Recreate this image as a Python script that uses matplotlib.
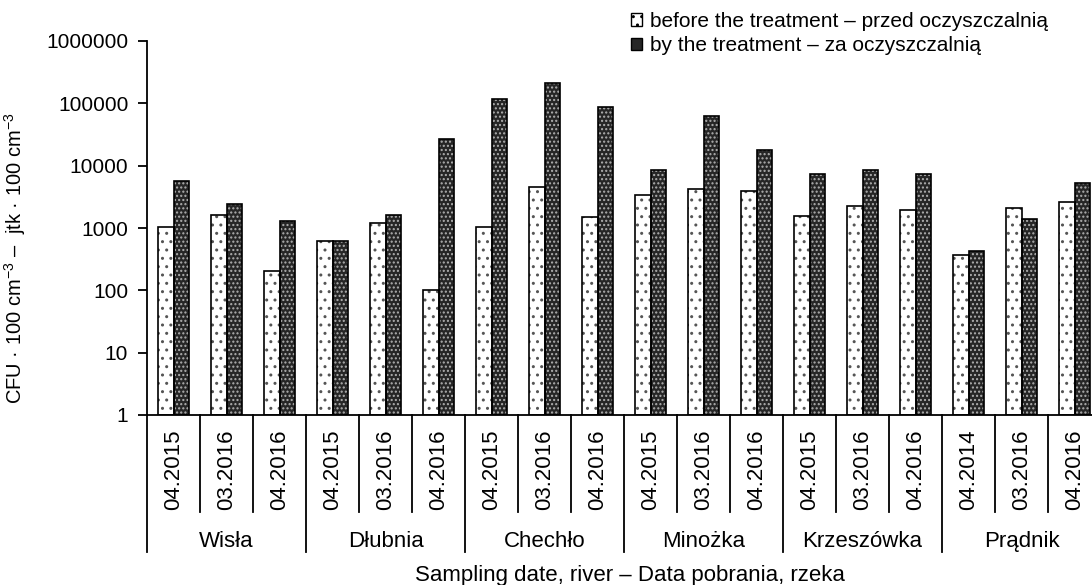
import numpy as np
import matplotlib
matplotlib.use("Agg")
import matplotlib.pyplot as plt
from matplotlib.patches import Patch
from matplotlib.ticker import FixedLocator, FixedFormatter

plt.rcParams['font.family'] = ['Liberation Sans', 'DejaVu Sans']
plt.rcParams['mathtext.fontset'] = 'custom'
plt.rcParams['mathtext.rm'] = 'Liberation Sans'
plt.rcParams['mathtext.it'] = 'Liberation Sans:italic'
plt.rcParams['hatch.linewidth'] = 1.0

# --- data ---
rivers = ['Wisła', 'Dłubnia', 'Chechło', 'Minożka', 'Krzeszówka', 'Prądnik']
dates = ['04.2015', '03.2016', '04.2016',
         '04.2015', '03.2016', '04.2016',
         '04.2015', '03.2016', '04.2016',
         '04.2015', '03.2016', '04.2016',
         '04.2015', '03.2016', '04.2016',
         '04.2014', '03.2016', '04.2016']
before = [1050, 1620, 204, 620, 1200, 100, 1050, 4500, 1520,
          3400, 4200, 3960, 1580, 2250, 1970, 373, 2090, 2600]
after = [5600, 2450, 1310, 610, 1600, 27000, 116000, 214000, 88000,
         8400, 63000, 18000, 7400, 8400, 7300, 433, 1390, 5200]
yticks = [1, 10, 100, 1000, 10000, 100000, 1000000]

W, H = 1092, 585
fig = plt.figure(figsize=(W / 100, H / 100), dpi=100)
# axes runs a little past the right edge of the figure
ax = fig.add_axes([147 / W, (H - 415) / H, 954 / W, 374 / H])

x = np.arange(len(dates))
bw = 0.29

def hatched_bars(xpos, vals, face, hatch, hcol):
    # hatch layer (hatch colour comes from the edge colour) + black outline
    ax.bar(xpos, vals, bw, bottom=1, facecolor=face, edgecolor=hcol,
           hatch=hatch, linewidth=0, zorder=2)
    ax.bar(xpos, vals, bw, bottom=1, facecolor='none', edgecolor='black',
           linewidth=1.2, zorder=3)

hatched_bars(x - bw / 2, np.array(before) - 1, 'white', '..', '#555555')
hatched_bars(x + bw / 2, np.array(after) - 1, '#262626', '....', '#b0b0b0')

ax.set_yscale('log')
ax.set_ylim(1, 1e6)
ax.set_xlim(-0.5, len(dates) - 0.5)
ax.yaxis.set_major_locator(FixedLocator(yticks))
ax.yaxis.set_major_formatter(FixedFormatter([str(v) for v in yticks]))
ax.yaxis.set_minor_locator(FixedLocator([]))
ax.tick_params(axis='y', direction='out', length=6.5, width=1.3,
               labelsize=15, pad=7)
ax.set_xticks([])
for s in ['top', 'right']:
    ax.spines[s].set_visible(False)
ax.spines['left'].set_linewidth(1.3)
ax.spines['bottom'].set_linewidth(1.3)

# multi-level category axis
trans = ax.get_xaxis_transform()
date_bot = -0.259
river_bot = -0.366
for i, d in enumerate(dates):
    ax.text(i, -0.147, d, transform=trans, rotation=90, ha='center',
            va='center', fontsize=16)
for i in range(len(dates) + 1):
    bottom = river_bot if i % 3 == 0 else date_bot
    ax.plot([i - 0.5, i - 0.5], [0, bottom], transform=trans, color='black',
            lw=1.3, clip_on=False)
for j, r in enumerate(rivers):
    ax.text(3 * j + 1, -0.352, r, transform=trans, ha='center',
            va='baseline', fontsize=16)

fig.text(630 / W, 1 - 581 / H, 'Sampling date, river – Data pobrania, rzeka',
         ha='center', va='baseline', fontsize=16)
fig.text(15 / W, 1 - 258 / H,
         r'CFU · 100 cm$^{-3}$ –  jtk · 100 cm$^{-3}$',
         rotation=90, ha='center', va='center', fontsize=14.5)

handles = [Patch(facecolor='white', edgecolor='black', hatch='..', lw=1),
           Patch(facecolor='#262626', edgecolor='black', lw=1)]
fig.legend(handles,
           ['before the treatment – przed oczyszczalnią',
            'by the treatment – za oczyszczalnią'],
           loc='upper left', bbox_to_anchor=(631 / W, 1 - 12 / H),
           frameon=False, fontsize=15, handlelength=0.55, handleheight=0.55,
           handletextpad=0.35, labelspacing=0.25, borderpad=0,
           borderaxespad=0)

fig.savefig('out.png', dpi=100)
